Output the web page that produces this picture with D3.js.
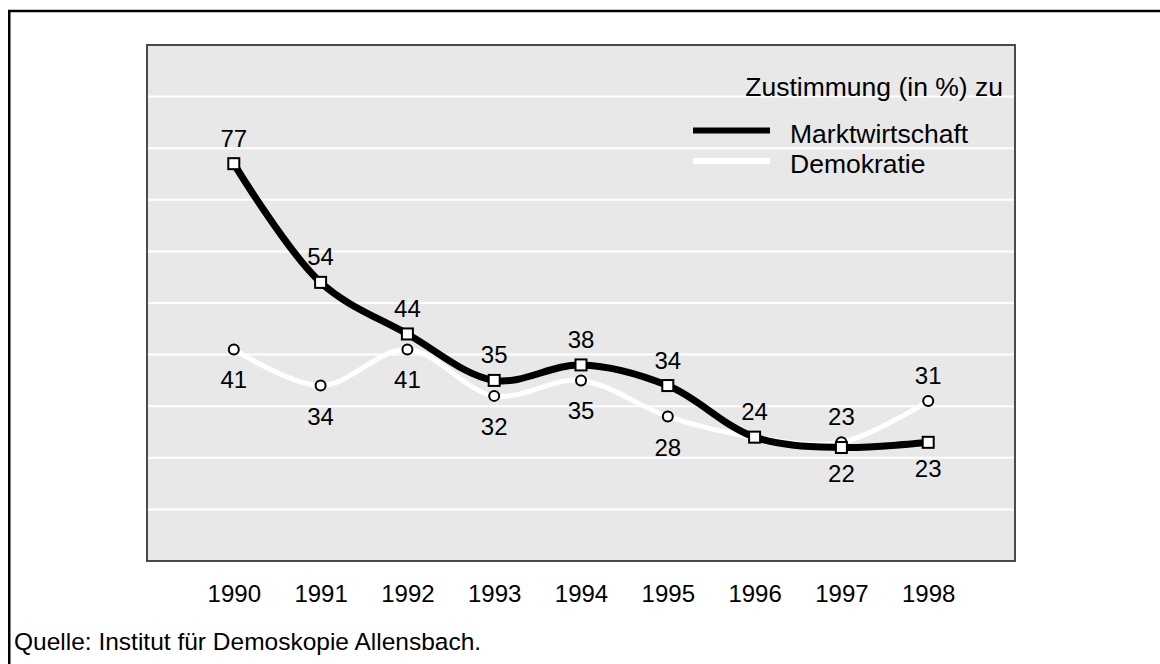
<!DOCTYPE html>
<html>
<head>
<meta charset="utf-8">
<script src="https://cdn.jsdelivr.net/npm/d3@7"></script>
<style>
  html, body { margin: 0; padding: 0; background: #fff; }
  svg { display: block; font-family: Arial, "Liberation Sans", sans-serif; }
</style>
</head>
<body>
<svg id="chart" width="1160" height="664"></svg>
<script>
// ---- data ----
const years = ["1990", "1991", "1992", "1993", "1994", "1995", "1996", "1997", "1998"];
const marktwirtschaft = [77, 54, 44, 35, 38, 34, 24, 22, 23];
const demokratie = [41, 34, 41, 32, 35, 28, 24, 23, 31];
const gridValues = [10, 20, 30, 40, 50, 60, 70, 80, 90];
const seriesNames = ["Marktwirtschaft", "Demokratie"];
const legendTitle = "Zustimmung (in %) zu";
const sourceText = "Quelle: Institut für Demoskopie Allensbach.";
// label placement (above / below / none)
const marktLabelSide = ["above", "above", "above", "above", "above", "above", "above", "below", "below"];
const demoLabelSide = ["below", "below", "below", "below", "below", "below", "none", "above", "above"];

// ---- layout ----
const svg = d3.select("#chart");
const plot = { left: 147, right: 1015, top: 45, bottom: 561 };

const x = d3.scalePoint().domain(years).range([plot.left, plot.right]).padding(1);
const y = d3.scaleLinear().domain([0, 100]).range([plot.bottom, plot.top]);

// outer frame (top + left lines visible)
svg.append("rect")
  .attr("x", 9.25).attr("y", 11).attr("width", 1300).attr("height", 800)
  .attr("fill", "none").attr("stroke", "#000").attr("stroke-width", 2.5);

// plot background
svg.append("rect")
  .attr("x", plot.left).attr("y", plot.top)
  .attr("width", plot.right - plot.left).attr("height", plot.bottom - plot.top)
  .attr("fill", "#e8e8e8");

// gridlines
svg.append("g").selectAll("line").data(gridValues).join("line")
  .attr("x1", plot.left).attr("x2", plot.right)
  .attr("y1", d => y(d)).attr("y2", d => y(d))
  .attr("stroke", "#fff").attr("stroke-width", 2);

// plot border
svg.append("rect")
  .attr("x", plot.left).attr("y", plot.top)
  .attr("width", plot.right - plot.left).attr("height", plot.bottom - plot.top)
  .attr("fill", "none").attr("stroke", "#4a4a4a").attr("stroke-width", 2);

// x axis labels
const xAxis = d3.axisBottom(x).tickSize(0).tickPadding(0);
const gx = svg.append("g").attr("transform", `translate(0, ${plot.bottom})`).call(xAxis);
gx.select(".domain").remove();
gx.selectAll("text")
  .attr("y", 41).attr("dy", null)
  .attr("font-size", 24).attr("font-family", "Arial, 'Liberation Sans', sans-serif")
  .attr("fill", "#000");

// lines
const lineGen = d3.line()
  .x((d, i) => x(years[i]))
  .y(d => y(d))
  .curve(d3.curveCatmullRom.alpha(0.5));

svg.append("path").datum(demokratie)
  .attr("d", lineGen).attr("fill", "none")
  .attr("stroke", "#fff").attr("stroke-width", 5).attr("stroke-linejoin", "round");

svg.append("path").datum(marktwirtschaft)
  .attr("d", lineGen).attr("fill", "none")
  .attr("stroke", "#000").attr("stroke-width", 7).attr("stroke-linejoin", "round");

// markers
svg.append("g").selectAll("circle").data(demokratie).join("circle")
  .attr("cx", (d, i) => x(years[i])).attr("cy", d => y(d)).attr("r", 5)
  .attr("fill", "#fff").attr("stroke", "#000").attr("stroke-width", 2);

svg.append("g").selectAll("rect").data(marktwirtschaft).join("rect")
  .attr("x", (d, i) => x(years[i]) - 5.5).attr("y", d => y(d) - 5.5)
  .attr("width", 11).attr("height", 11)
  .attr("fill", "#fff").attr("stroke", "#000").attr("stroke-width", 2);

// value labels
function addLabels(values, sides, belowOffset) {
  svg.append("g").selectAll("text")
    .data(values.map((v, i) => ({ v, i, side: sides[i] })).filter(d => d.side !== "none"))
    .join("text")
    .attr("x", d => x(years[d.i]))
    .attr("y", d => y(d.v) + (d.side === "above" ? -17 : belowOffset))
    .attr("text-anchor", "middle")
    .attr("font-size", 24)
    .attr("fill", "#000")
    .text(d => d.v);
}
addLabels(marktwirtschaft, marktLabelSide, 35);
addLabels(demokratie, demoLabelSide, 39);

// legend
svg.append("text")
  .attr("x", 1003).attr("y", 96).attr("text-anchor", "end")
  .attr("font-size", 26.5).attr("fill", "#000").text(legendTitle);

const legendItems = [
  { name: seriesNames[0], color: "#000", width: 6, ly: 130.5, ty: 143 },
  { name: seriesNames[1], color: "#fff", width: 6, ly: 161, ty: 173 }
];
const lg = svg.append("g").selectAll("g").data(legendItems).join("g");
lg.append("line")
  .attr("x1", 693).attr("x2", 770)
  .attr("y1", d => d.ly).attr("y2", d => d.ly)
  .attr("stroke", d => d.color).attr("stroke-width", d => d.width);
lg.append("text")
  .attr("x", 790).attr("y", d => d.ty)
  .attr("font-size", 26.5).attr("fill", "#000")
  .text(d => d.name);

// source
svg.append("text")
  .attr("x", 14).attr("y", 650)
  .attr("font-size", 24.5).attr("fill", "#000")
  .text(sourceText);
</script>
</body>
</html>
